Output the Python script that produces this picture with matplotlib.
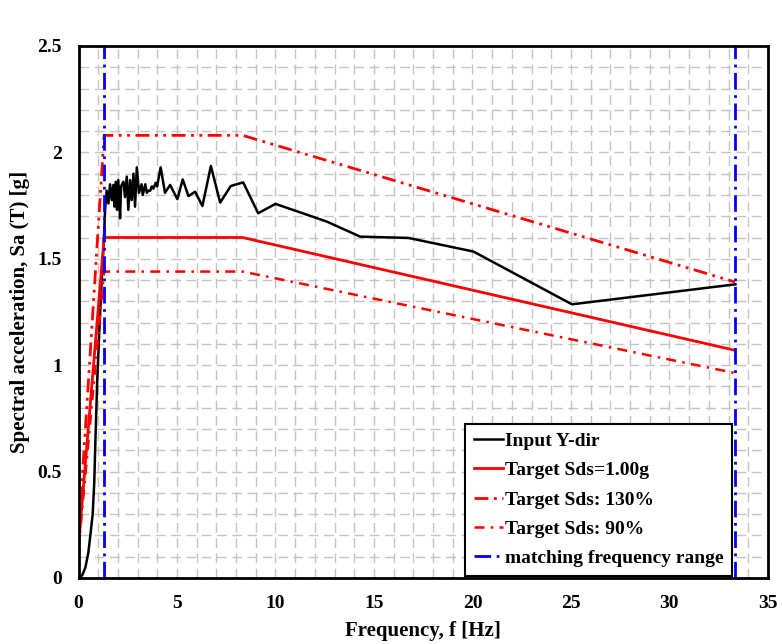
import matplotlib.pyplot as plt
from matplotlib.ticker import MultipleLocator

# input spectrum (Y-dir)
freqInput = [0.0, 0.1, 0.2, 0.35, 0.5, 0.6, 0.72, 0.8, 0.85, 0.95, 1.05, 1.15,
             1.28, 1.35, 1.43, 1.52, 1.60, 1.69, 1.77, 1.82, 1.89, 1.955, 2.02,
             2.11, 2.16, 2.28, 2.36, 2.45, 2.53, 2.62, 2.70, 2.79, 2.87, 2.96,
             3.07, 3.2, 3.26, 3.39, 3.47, 3.55, 3.64, 3.72, 3.8, 3.92, 3.99,
             4.17, 4.39, 4.65, 5.02, 5.29, 5.58, 5.92, 6.29, 6.72, 7.19, 7.73,
             8.36, 9.12, 10.0, 12.6, 14.3, 16.75, 20.05, 25.05, 33.35]
saInput = [0.0, 0.005, 0.015, 0.05, 0.12, 0.2, 0.3, 0.45, 0.62, 0.93, 1.15,
           1.35, 1.58, 1.73, 1.82, 1.76, 1.85, 1.776, 1.847, 1.745, 1.862,
           1.73, 1.87, 1.69, 1.84, 1.862, 1.79, 1.886, 1.73, 1.87, 1.776, 1.90,
           1.745, 1.93, 1.81, 1.85, 1.80, 1.85, 1.81, 1.82, 1.82, 1.84, 1.83,
           1.857, 1.84, 1.93, 1.81, 1.847, 1.78, 1.873, 1.795, 1.815, 1.748,
           1.936, 1.764, 1.842, 1.859, 1.714, 1.758, 1.675, 1.604, 1.598,
           1.534, 1.286, 1.38]

# design target spectrum
freqTarget = [0.0, 1.3, 8.33, 33.33]
saTarget = [0.15, 1.60, 1.60, 1.07]
saUpper = [v * 1.3 for v in saTarget]
saLower = [v * 0.9 for v in saTarget]

# matching frequency range
fMin = 1.3
fMax = 33.33

plt.rcParams["font.family"] = ["Liberation Serif", "DejaVu Serif"]
plt.rcParams["font.weight"] = "bold"

fig = plt.figure(figsize=(7.82, 6.44), dpi=100)
ax = fig.add_axes([0.1004, 0.1025, 0.8816, 0.8261])

ax.plot(freqInput, saInput, color="black", lw=1.8, label="Input Y-dir")
ax.plot(freqTarget, saTarget, color="red", lw=2.0, label="Target Sds=1.00g")
ax.plot(freqTarget, saUpper, color="red", lw=2.0,
        linestyle=(0, (5, 2, 1, 2, 1, 2)), label="Target Sds: 130%")
ax.plot(freqTarget, saLower, color="red", lw=1.8,
        linestyle=(0, (4, 2.5, 1, 2.5)), label="Target Sds: 90%")
ax.axvline(fMin, color="blue", lw=2.0, linestyle=(0, (6, 2, 1, 2)),
           label="matching frequency range")
ax.axvline(fMax, color="blue", lw=2.0, linestyle=(0, (6, 2, 1, 2)))

ax.set_xlim(0, 35)
ax.set_ylim(0, 2.5)
ax.xaxis.set_major_locator(MultipleLocator(5))
ax.xaxis.set_minor_locator(MultipleLocator(1))
ax.yaxis.set_major_locator(MultipleLocator(0.5))
ax.yaxis.set_minor_locator(MultipleLocator(0.1))
ax.grid(True, which="both", color="#c4c4c4", lw=1.0, linestyle=(0, (7, 4)))
ax.set_axisbelow(True)
ax.tick_params(which="both", length=0, labelsize=14, pad=12)
ax.set_yticks([0, 0.5, 1, 1.5, 2, 2.5])
ax.set_yticklabels(["0", "0.5", "1", "1.5", "2", "2.5"])
for s in ax.spines.values():
    s.set_linewidth(2.0)

ax.set_xlabel("Frequency, f [Hz]", fontsize=15, fontweight="bold", labelpad=7)
ax.set_ylabel("Spectral acceleration, Sa (T) [g]", fontsize=15,
              fontweight="bold", labelpad=5)

leg = ax.legend(loc="lower right", bbox_to_anchor=(0.948, 0.004),
                borderaxespad=0, fancybox=False, framealpha=1,
                edgecolor="black", fontsize=14, handlelength=1.5,
                handletextpad=0.1, labelspacing=0.6, borderpad=0.45)
leg.get_frame().set_linewidth(1.5)

fig.savefig("out.png", dpi=100)
